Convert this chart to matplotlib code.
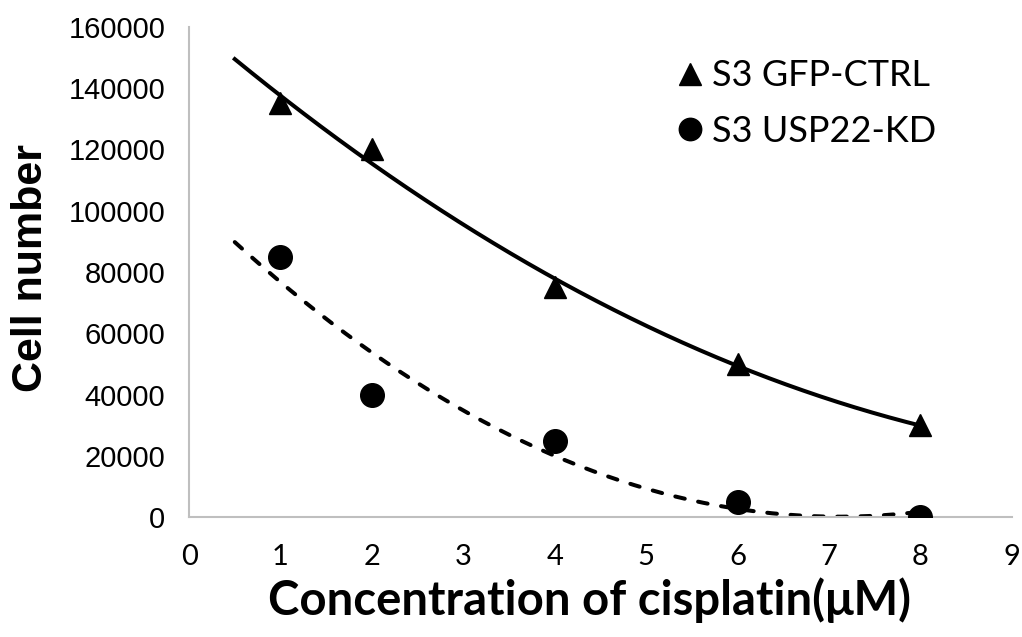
import matplotlib.pyplot as plt
import numpy as np

plt.rcParams['font.family'] = ['Lato', 'DejaVu Sans']

conc = [1, 2, 4, 6, 8]
gfp_ctrl = [135000, 120000, 75000, 50000, 30000]
usp22_kd = [85000, 40000, 25000, 5000, 0]

fig = plt.figure(figsize=(10.22, 6.37), dpi=100)
ax = fig.add_axes([0.185, 0.188, 0.805, 0.77])

# order-2 trendlines, forecast back to 0.5 like excel
xs = np.linspace(0.5, 8, 200)
p1 = np.polyfit(conc, gfp_ctrl, 2)
p2 = np.polyfit(conc, usp22_kd, 2)
ax.plot(xs, np.polyval(p1, xs), color='black', lw=2.9, zorder=2)
ax.plot(xs, np.polyval(p2, xs), color='black', lw=2.9, ls=(0, (2.4, 3.4)),
        dash_capstyle='round', zorder=2)

ax.plot(conc, gfp_ctrl, '^', color='black', ms=16, label='S3 GFP-CTRL', zorder=3)
ax.plot(conc, usp22_kd, 'o', color='black', ms=17, label='S3 USP22-KD', zorder=3)

ax.set_xlim(0, 9)
ax.set_ylim(0, 160000)
ax.set_xticks(range(0, 10))
ax.set_yticks(range(0, 160001, 20000))
ax.tick_params(length=0)
ax.tick_params(axis='y', labelsize=21, pad=17)
ax.tick_params(axis='x', labelsize=21, pad=19)
plt.setp(ax.get_yticklabels(), fontfamily='Liberation Sans')
for s in ['top', 'right']:
    ax.spines[s].set_visible(False)
for s in ['left', 'bottom']:
    ax.spines[s].set_color('#BFBFBF')
    ax.spines[s].set_linewidth(1.5)

ax.set_xlabel('Concentration of cisplatin(μM)', fontsize=34, fontweight='bold')
ax.set_ylabel('Cell number', fontsize=31, fontweight='bold', fontfamily='Liberation Sans')
ax.xaxis.set_label_coords(0.487, -0.122)
ax.yaxis.set_label_coords(-0.168, 0.508)

ax.legend(loc='upper left', bbox_to_anchor=(0.55, 1.0), frameon=False, fontsize=26,
          handletextpad=0.15, labelspacing=0.62, markerscale=0.95, handlelength=0.9)

fig.savefig('out.png', dpi=100)
